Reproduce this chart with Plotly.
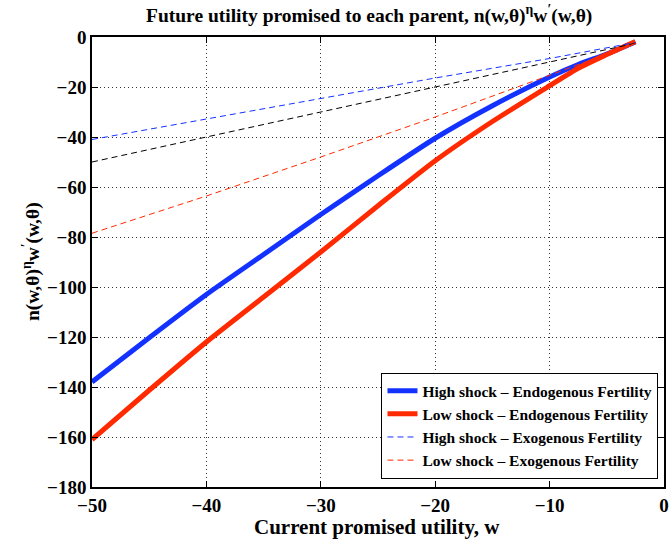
import plotly.graph_objects as go

# Data
w_endo = [-50, -45, -40, -35, -30, -25, -20, -15, -10, -7.5, -5, -2.5]
high_endo = [-138, -120.3, -103, -87, -71, -55.5, -40.5, -27.5, -16, -11, -6.8, -2]
low_endo = [-161, -141.3, -122, -104, -86, -67.5, -49.5, -33.8, -19.5, -12.5, -7, -1.8]

w_exo = [-50, -40, -30, -20, -10, -2.5]
high_exo = [-41, -32.8, -24.6, -16.4, -8.6, -2.2]
mid_exo = [-50, -40, -30, -20, -10, -2.5]
low_exo = [-78.5, -63.6, -48, -32, -15.3, -2.6]

x_ticks = [-50, -40, -30, -20, -10, 0]
y_ticks = list(range(-180, 1, 20))

BLUE = "#1432ff"
RED = "#ff2a00"
FONT = "Liberation Serif"

fig = go.Figure()
fig.add_trace(go.Scatter(x=w_endo, y=high_endo, mode="lines", line=dict(color=BLUE, width=5, shape="spline", smoothing=0.6),
                         name="High shock \u2013 Endogenous Fertility", legendgroup="a"))
fig.add_trace(go.Scatter(x=w_endo, y=low_endo, mode="lines", line=dict(color=RED, width=5, shape="spline", smoothing=0.6),
                         name="Low shock \u2013 Endogenous Fertility", legendgroup="b"))
fig.add_trace(go.Scatter(x=w_exo, y=high_exo, mode="lines", line=dict(color=BLUE, width=1, dash="6px,4px"),
                         name="High shock \u2013 Exogenous Fertility", legendgroup="c"))
fig.add_trace(go.Scatter(x=w_exo, y=mid_exo, mode="lines", line=dict(color="black", width=1, dash="6px,4px"),
                         name="High shock \u2013 Exogenous Fertility", legendgroup="d", showlegend=False))
fig.add_trace(go.Scatter(x=w_exo, y=low_exo, mode="lines", line=dict(color=RED, width=1, dash="6px,4px"),
                         name="Low shock \u2013 Exogenous Fertility", legendgroup="e"))

axis_common = dict(
    showline=True, linecolor="black", linewidth=1.5, mirror="allticks",
    ticks="inside", ticklen=6, tickwidth=1.2, tickcolor="black",
    showgrid=True, gridcolor="rgba(0,0,0,0.8)", griddash="1px,3px", gridwidth=1,
    zeroline=False, automargin=False,
    tickfont=dict(family=FONT, size=19, color="black", weight="bold"),
)

fmt = lambda v: f"\u2212{abs(v)}" if v else "0"

fig.update_layout(
    width=670, height=544,
    margin=dict(l=92, r=6, t=37, b=57, autoexpand=False),
    paper_bgcolor="white", plot_bgcolor="white",
    font=dict(family=FONT, color="black", weight="bold"),
    xaxis=dict(range=[-50, 0], tickvals=x_ticks, ticktext=[fmt(v) for v in x_ticks], **axis_common),
    yaxis=dict(range=[-180, 0], tickvals=y_ticks, ticktext=[fmt(v) for v in y_ticks], **axis_common),
    legend=dict(x=0.99, xanchor="right", y=0.018, yanchor="bottom",
                bgcolor="white", bordercolor="black", borderwidth=1.2,
                font=dict(family=FONT, size=15.5, color="black", weight="bold"),
                tracegroupgap=0, traceorder="grouped"),
    showlegend=True,
    annotations=[
        dict(text="Future utility promised to each parent, n(w,\u03b8)<sup>\u03b7</sup>w<sup>\u2032</sup>(w,\u03b8)",
             xref="paper", yref="paper", x=(369 - 92) / 572, y=(487 - 14) / 450,
             xanchor="center", yanchor="middle", showarrow=False,
             font=dict(family=FONT, size=19.5, color="black", weight="bold")),
        dict(text="Current promised utility, w",
             xref="paper", yref="paper", x=(377 - 92) / 572, y=(487 - 527) / 450,
             xanchor="center", yanchor="middle", showarrow=False,
             font=dict(family=FONT, size=21, color="black", weight="bold")),
        dict(text="n(w,\u03b8)<sup>\u03b7</sup>w<sup>\u2032</sup>(w,\u03b8)",
             xref="paper", yref="paper", x=(31 - 92) / 572, y=0.5, textangle=-90,
             xanchor="center", yanchor="middle", showarrow=False,
             font=dict(family=FONT, size=19.5, color="black", weight="bold")),
    ],
)

fig.write_html("out.html", config={"displayModeBar": False},
               post_script="document.body.style.margin='0';document.body.style.overflow='hidden';")
